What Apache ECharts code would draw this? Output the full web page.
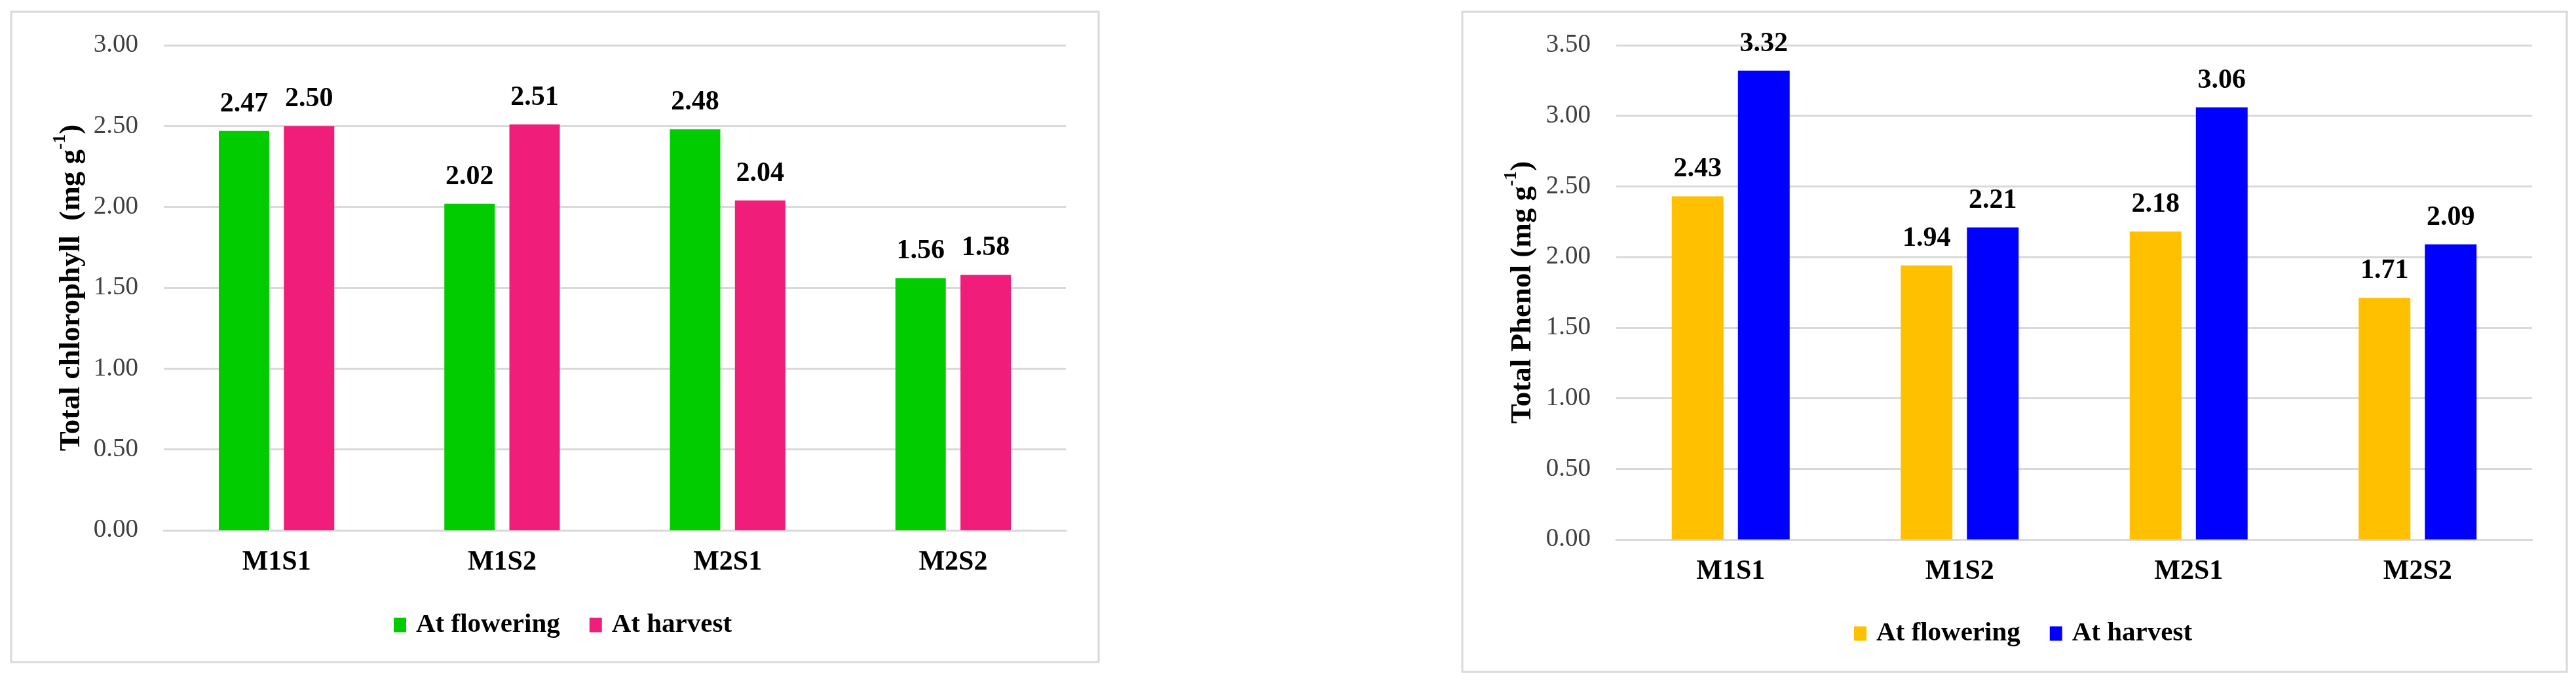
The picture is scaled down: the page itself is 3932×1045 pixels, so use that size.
<!DOCTYPE html>
<html><head><meta charset="utf-8">
<script src="https://cdn.jsdelivr.net/npm/echarts/dist/echarts.min.js"></script>
<style>
html,body{margin:0;padding:0;background:#fff;width:3932px;height:1045px;overflow:hidden}
#c1{position:absolute;left:0;top:0;width:1966px;height:1045px}
#c2{position:absolute;left:1966px;top:0;width:1966px;height:1045px}
</style>
</head><body><div id="c1"></div><div id="c2"></div>
<script>
const categories = ['M1S1', 'M1S2', 'M2S1', 'M2S2'];
const seriesNames = ['At flowering', 'At harvest'];
const chlorophyllFlowering = [2.47, 2.02, 2.48, 1.56];
const chlorophyllHarvest = [2.50, 2.51, 2.04, 1.58];
const phenolFlowering = [2.43, 1.94, 2.18, 1.71];
const phenolHarvest = [3.32, 2.21, 3.06, 2.09];
const chlorophyllAxis = { min: 0, max: 3, interval: 0.5 };
const phenolAxis = { min: 0, max: 3.5, interval: 0.5 };
const chlorophyllTitle = ['Total chlorophyll  (mg g', '-1', ')'];
const phenolTitle = ['Total Phenol (mg g', '-1', ')'];

const FONT = "'Liberation Serif', 'Times New Roman', serif";

function build(cfg) {
  const mkSeries = (name, data, color) => ({
    type: 'bar', name, data,
    barGap: cfg.barGap, barCategoryGap: cfg.catGap,
    itemStyle: { color },
    label: {
      show: true, position: 'top', distance: 20,
      formatter: p => p.value.toFixed(2),
      fontFamily: FONT, fontSize: 42, fontWeight: 'bold', color: '#000'
    }
  });
  return {
    animation: false,
    backgroundColor: 'transparent',
    graphic: [{
      type: 'rect', z: -10,
      shape: cfg.frame,
      style: { fill: '#fff', stroke: '#d9d9d9', lineWidth: 3 }
    }],
    grid: cfg.grid,
    legend: {
      data: seriesNames,
      left: cfg.legendLeft, top: cfg.legendTop,
      itemWidth: 19, itemHeight: 22, itemGap: 45,
      icon: 'rect',
      textStyle: { fontFamily: FONT, fontSize: 41, fontWeight: 'bold', color: '#000', padding: [0, 0, 0, 10] }
    },
    xAxis: {
      type: 'category', data: categories,
      axisLine: { lineStyle: { color: '#d9d9d9', width: 3 } },
      axisTick: { show: false },
      axisLabel: { fontFamily: FONT, fontSize: 42, fontWeight: 'bold', color: '#000', margin: 28 }
    },
    yAxis: {
      type: 'value', min: cfg.axis.min, max: cfg.axis.max, interval: cfg.axis.interval,
      axisLine: { show: false }, axisTick: { show: false },
      splitLine: { lineStyle: { color: '#d9d9d9', width: 3 } },
      axisLabel: { fontFamily: FONT, fontSize: 39, color: '#404040', margin: 39, formatter: v => v.toFixed(2) },
      name: '{t|' + cfg.title[0] + '}{s|' + cfg.title[1] + '}{t|' + cfg.title[2] + '}',
      nameLocation: 'middle', nameRotate: 90, nameGap: cfg.nameGap,
      nameTextStyle: {
        rich: {
          t: { fontFamily: FONT, fontSize: 45, fontWeight: 'bold', color: '#000', lineHeight: 54, verticalAlign: 'bottom' },
          s: { fontFamily: FONT, fontSize: 28, fontWeight: 'bold', color: '#000', lineHeight: 30, verticalAlign: 'top' }
        }
      }
    },
    series: [
      mkSeries(seriesNames[0], cfg.v1, cfg.c1),
      mkSeries(seriesNames[1], cfg.v2, cfg.c2)
    ]
  };
}

const chart1 = echarts.init(document.getElementById('c1'), null, { renderer: 'canvas' });
chart1.setOption(build({
  frame: { x: 17, y: 18, width: 1660, height: 992 },
  grid: { left: 250, right: 339, top: 69, bottom: 236 },
  legendLeft: 596, legendTop: 928,
  axis: chlorophyllAxis, title: chlorophyllTitle, nameGap: 118,
  barGap: '29%', catGap: '48.8%',
  v1: chlorophyllFlowering, v2: chlorophyllHarvest, c1: '#00CC00', c2: '#F01E7A'
}));

const chart2 = echarts.init(document.getElementById('c2'), null, { renderer: 'canvas' });
chart2.setOption(build({
  frame: { x: 266, y: 18, width: 1686, height: 1007 },
  grid: { left: 501, right: 67, top: 69, bottom: 222 },
  legendLeft: 859, legendTop: 941,
  axis: phenolAxis, title: phenolTitle, nameGap: 120,
  barGap: '28%', catGap: '48.5%',
  v1: phenolFlowering, v2: phenolHarvest, c1: '#FFC000', c2: '#0000FF'
}));
</script>
</body></html>
